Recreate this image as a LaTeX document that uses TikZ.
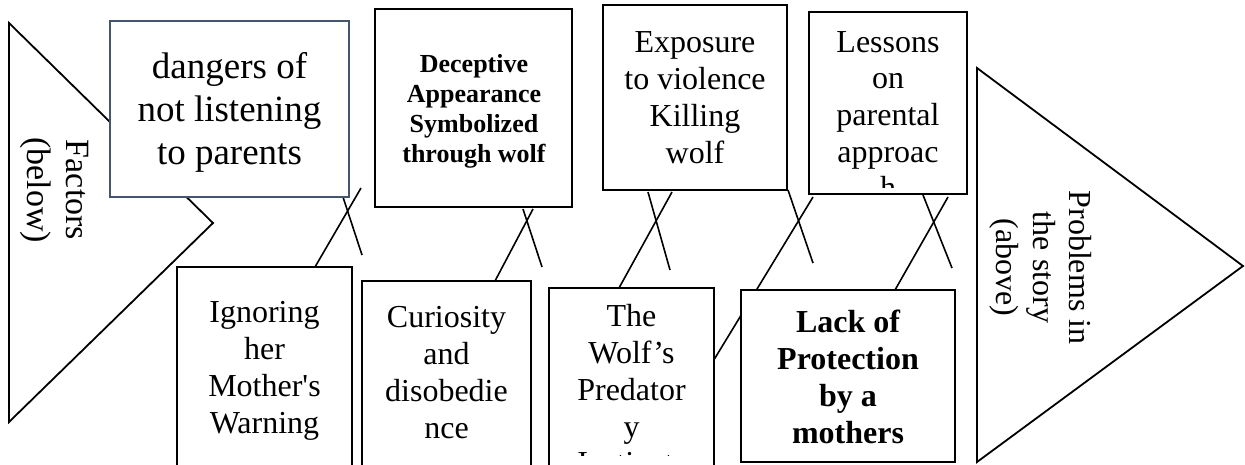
\documentclass[tikz,border=0pt]{standalone}
\usepackage{fontspec}
\setmainfont{Liberation Serif}[Ligatures=TeXOff]
\definecolor{slate}{RGB}{70,85,110}
\begin{document}
\begin{tikzpicture}[x=1pt,y=-1pt]
\tikzset{
  edge/.style={line width=1.6pt},
  tri/.style={draw, line width=1.8pt, line join=miter, fill=white},
  box/.style={draw, rectangle, line width=1.8pt, fill=white, inner sep=0pt},
  bluebox/.style={draw=slate, rectangle, line width=1.5pt, fill=white, inner sep=0pt},
  lbl/.style={align=center, inner sep=0pt},
  fA/.style={font=\fontsize{32}{36.7}\selectfont},
  fB/.style={font=\fontsize{32}{37}\selectfont\bfseries},
  fC/.style={font=\fontsize{26}{30.2}\selectfont\bfseries},
  fD/.style={font=\fontsize{37}{43}\selectfont},
  fE/.style={font=\fontsize{34}{39}\selectfont}
}
\useasboundingbox (0,0) rectangle (1245,464);
\clip (0,0) rectangle (1245,464);

% triangles
\draw[tri] (9,23) -- (213,223) -- (9,422) -- cycle;
\draw[tri] (977,68) -- (1243,266) -- (977,462) -- cycle;
\node[lbl, fE, rotate=-90] (factors) at (55,190) {\strut Factors\\(below)\strut};
\node[lbl, fA, rotate=-90] (problems) at (1040.6,267.5) {\strut Problems in\\the story\\(above)\strut};

% connector end points
\coordinate (a1) at (361,188); \coordinate (a2) at (315,267);
\coordinate (b1) at (343,197); \coordinate (b2) at (362,255);
\coordinate (c1) at (533,209); \coordinate (c2) at (495,281);
\coordinate (d1) at (523,209); \coordinate (d2) at (542,267);
\coordinate (e1) at (648,192); \coordinate (e2) at (670,270);
\coordinate (f1) at (672,192); \coordinate (f2) at (619,288);
\coordinate (g1) at (788,190); \coordinate (g2) at (813,263);
\coordinate (h1) at (813,197); \coordinate (h2) at (712,363);
\coordinate (i1) at (923,195); \coordinate (i2) at (952,268);
\coordinate (j1) at (948,197); \coordinate (j2) at (895,290);
\foreach \p in {a,b,c,d,e,f,g,h,i,j} {\draw[edge] (\p1) -- (\p2);}

% boxes
\node[bluebox, minimum width=239pt, minimum height=176pt] (dangers) at (229.5,109) {};
\node[box, minimum width=197pt, minimum height=198pt] (deceptive) at (473.5,108) {};
\node[box, minimum width=184pt, minimum height=185pt] (exposure) at (695,97.5) {};
\node[box, minimum width=158pt, minimum height=182pt] (lessons) at (888,103) {};
\node[box, minimum width=175pt, minimum height=223pt] (ignoring) at (264.5,378.5) {};
\node[box, minimum width=169pt, minimum height=209pt] (curiosity) at (446.5,385.5) {};
\node[box, minimum width=165pt, minimum height=202pt] (predator) at (631.5,389) {};
\node[box, minimum width=214pt, minimum height=172pt] (lack) at (848,376) {};

% texts
\node[lbl, fD] (tdangers) at (229.5,112.4) {\strut dangers of\\not listening\\to parents\strut};
\node[lbl, fC] (tdeceptive) at (474,111.3) {\strut Deceptive\\Appearance\\Symbolized\\through wolf\strut};
\node[lbl, fA] (texposure) at (695,100.7) {\strut Exposure\\to violence\\Killing\\wolf\strut};
\begin{scope}
  \clip (812,15) rectangle (964,187);
  \node[lbl, fA] (tlessons) at (888,118.1) {\strut Lessons\\on\\parental\\approac\\h\strut};
\end{scope}
\node[lbl, fA] (tignoring) at (264.5,370.7) {\strut Ignoring\\her\\Mother's\\Warning\strut};
\node[lbl, fA] (tcuriosity) at (446.5,375.7) {\strut Curiosity\\and\\disobedie\\nce\strut};
\begin{scope}
  \clip (552,291) rectangle (711,455);
  \node[lbl, fA] (tpredator) at (631.5,393) {\strut The\\Wolf’s\\Predator\\y\\Instincts\strut};
\end{scope}
\node[lbl, fB] (tlack) at (848,380.1) {\strut Lack of\\Protection\\by a\\mothers\strut};
\end{tikzpicture}
\end{document}
